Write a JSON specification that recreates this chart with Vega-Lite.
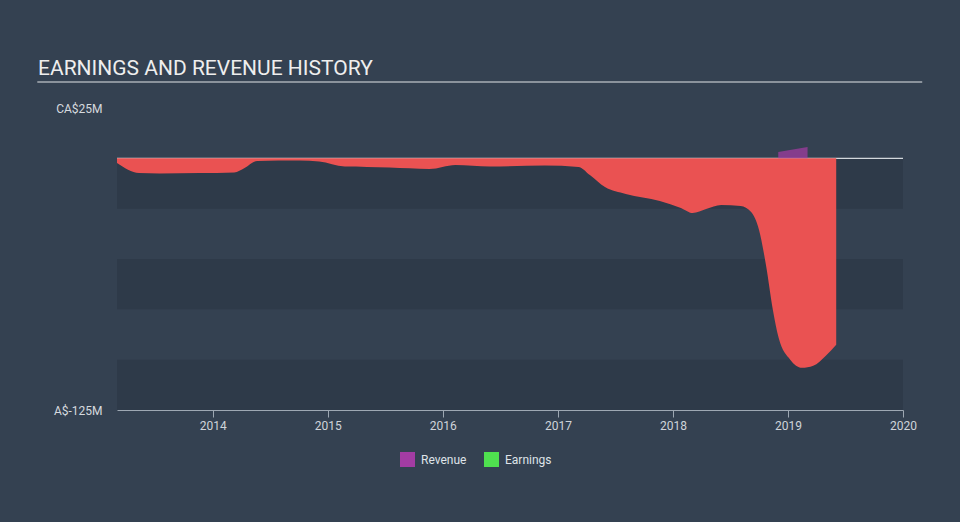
{
  "$schema": "https://vega.github.io/schema/vega-lite/v6.json",
  "width": 786,
  "height": 302,
  "autosize": "none",
  "padding": {"left": 117, "top": 108, "right": 57, "bottom": 112},
  "background": "#344151",
  "config": {
    "view": {"stroke": null},
    "font": "Roboto",
    "axis": {"labelFont": "Roboto", "grid": false},
    "legend": {"labelFont": "Roboto"}
  },
  "title": {
    "text": "EARNINGS AND REVENUE HISTORY",
    "anchor": "start",
    "frame": "group",
    "dx": -79,
    "dy": 41,
    "offset": 26,
    "baseline": "alphabetic",
    "fontSize": 21,
    "fontWeight": "normal",
    "font": "Roboto",
    "color": "#eeeeee"
  },
  "datasets": {
    "bands": [
      {"lo": 0, "hi": -25},
      {"lo": -50, "hi": -75},
      {"lo": -100, "hi": -125}
    ],
    "earnings": [
      {"date": "2013-03-03", "value": -2.3},
      {"date": "2013-05-12", "value": -7.3},
      {"date": "2013-07-16", "value": -7.5},
      {"date": "2013-11-20", "value": -7.3},
      {"date": "2014-03-10", "value": -7.0},
      {"date": "2014-04-12", "value": -4.8},
      {"date": "2014-05-22", "value": -1.3},
      {"date": "2014-10-04", "value": -1.1},
      {"date": "2014-12-05", "value": -1.6},
      {"date": "2015-02-24", "value": -4.1},
      {"date": "2015-07-16", "value": -4.6},
      {"date": "2015-11-20", "value": -5.3},
      {"date": "2016-02-10", "value": -3.3},
      {"date": "2016-05-30", "value": -4.1},
      {"date": "2016-11-20", "value": -3.6},
      {"date": "2017-03-07", "value": -4.3},
      {"date": "2017-04-12", "value": -8.3},
      {"date": "2017-05-30", "value": -14.3},
      {"date": "2017-08-04", "value": -17.7},
      {"date": "2017-11-20", "value": -21.2},
      {"date": "2018-01-26", "value": -24.7},
      {"date": "2018-03-04", "value": -27.2},
      {"date": "2018-04-16", "value": -25.2},
      {"date": "2018-06-03", "value": -23.2},
      {"date": "2018-08-04", "value": -23.7},
      {"date": "2018-09-06", "value": -26.7},
      {"date": "2018-10-01", "value": -35.6},
      {"date": "2018-10-23", "value": -53},
      {"date": "2018-11-14", "value": -75.3},
      {"date": "2018-12-02", "value": -89},
      {"date": "2019-01-08", "value": -100},
      {"date": "2019-02-14", "value": -104},
      {"date": "2019-03-22", "value": -103},
      {"date": "2019-05-01", "value": -98},
      {"date": "2019-06-03", "value": -92.6}
    ],
    "revenue": [
      {"date": "2018-12-01", "value": 3.1, "series": "Revenue"},
      {"date": "2019-03-04", "value": 5.6, "series": "Revenue"}
    ]
  },
  "layer": [
    {
      "data": {"name": "bands"},
      "mark": {"type": "rect", "color": "#2e3a49"},
      "encoding": {
        "x": {"datum": {"year": 2013, "month": 3, "date": 3, "utc": true}, "type": "temporal"},
        "x2": {"datum": {"year": 2020, "month": 1, "date": 1, "utc": true}},
        "y": {"field": "lo", "type": "quantitative"},
        "y2": {"field": "hi"}
      }
    },
    {
      "data": {"values": [{}]},
      "mark": {"type": "rule", "color": "#d3d8dc", "strokeWidth": 1.2},
      "encoding": {
        "x": {"datum": {"year": 2013, "month": 3, "date": 3, "utc": true}, "type": "temporal"},
        "x2": {"datum": {"year": 2020, "month": 1, "date": 1, "utc": true}},
        "y": {"datum": 0, "type": "quantitative"}
      }
    },
    {
      "data": {"name": "earnings"},
      "mark": {"type": "area", "color": "#ea5252", "interpolate": "monotone", "opacity": 1},
      "encoding": {
        "x": {
          "field": "date",
          "type": "temporal",
          "scale": {"type": "utc", "domain": [{"year": 2013, "month": 3, "date": 3, "utc": true}, {"year": 2020, "month": 1, "date": 1, "utc": true}]},
          "axis": {
            "title": null,
            "format": "%Y",
            "tickCount": {"interval": "year", "step": 1},
            "domainColor": "#9ea8b3",
            "tickColor": "#9ea8b3",
            "tickSize": 7,
            "labelColor": "#cfd4da",
            "labelFontSize": 12,
            "labelPadding": 3,
            "labelFlush": false
          }
        },
        "y": {
          "field": "value",
          "type": "quantitative",
          "scale": {"domain": [-125, 25], "nice": false},
          "axis": {
            "title": null,
            "values": [-125, 25],
            "labelExpr": "datum.value == 25 ? 'CA$25M' : 'A$-125M'",
            "domain": false,
            "ticks": false,
            "labelPadding": 15,
            "labelColor": "#d6dadf",
            "labelFontSize": 12
          }
        }
      }
    },
    {
      "data": {"name": "revenue"},
      "mark": {"type": "area", "opacity": 0.72},
      "encoding": {
        "x": {"field": "date", "type": "temporal"},
        "y": {"field": "value", "type": "quantitative"},
        "color": {
          "field": "series",
          "type": "nominal",
          "scale": {"domain": ["Revenue", "Earnings"], "range": ["#a33ca3", "#4fe04f"]},
          "legend": {
            "title": null,
            "orient": "none",
            "legendX": 283,
            "legendY": 344,
            "direction": "horizontal",
            "symbolType": "square",
            "symbolSize": 225,
            "symbolOpacity": 1,
            "symbolStrokeWidth": 0,
            "labelColor": "#dfe3e8",
            "labelFontSize": 12,
            "labelOffset": 6,
            "columnPadding": 17
          }
        }
      }
    },
    {
      "data": {"values": [{}]},
      "mark": {"type": "rule", "color": "#a9afb6", "strokeWidth": 1.5, "clip": false},
      "encoding": {
        "x": {"datum": {"year": 2012, "month": 6, "date": 23, "utc": true}, "type": "temporal"},
        "x2": {"datum": {"year": 2020, "month": 3, "date": 2, "utc": true}},
        "y": {"datum": 37.9, "type": "quantitative"}
      }
    }
  ]
}
